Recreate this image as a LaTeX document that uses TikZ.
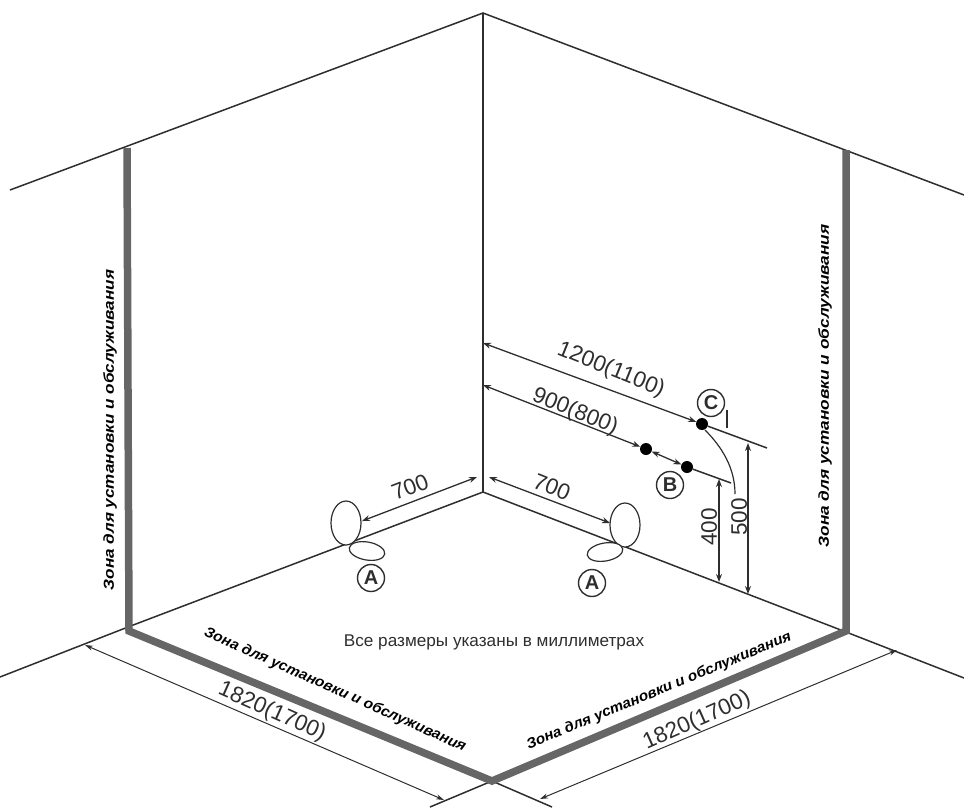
\documentclass[tikz,border=0pt]{standalone}
\usepackage{fontspec}
\setmainfont{Liberation Sans}
\usetikzlibrary{arrows.meta,shapes.geometric}
\definecolor{ink}{gray}{0.18}
\definecolor{band}{gray}{0.4}
\tikzset{
  wall/.style={ink,line width=1.5pt},
  zone/.style={band,line width=7.5pt,line cap=butt,line join=miter},
  dim/.style={ink,line width=1.3pt,{Stealth[length=8pt,width=6pt]}-{Stealth[length=8pt,width=6pt]}},
  thindim/.style={ink,line width=1pt,{Stealth[length=8pt,width=5pt]}-{Stealth[length=8pt,width=5pt]}},
  dimtext/.style={inner sep=0pt,text=ink,font=\fontsize{22.5}{23}\selectfont},
  zonetext/.style={inner sep=0pt,text=black,font=\fontsize{14.5}{15}\selectfont\bfseries\itshape},
  letterring/.style={draw=ink,circle,line width=1.4pt,minimum size=27pt,inner sep=0pt,font=\fontsize{20}{20}\selectfont\bfseries,text=ink},
  tallseat/.style={draw=ink,fill=white,ellipse,line width=1.2pt},
  blackdot/.style={fill=black,circle,minimum size=12pt,inner sep=0pt}
}
\begin{document}
\begin{tikzpicture}[x=1pt,y=-1pt]
\useasboundingbox (0,0) rectangle (964,807);
\coordinate (top) at (483,13);
\coordinate (tl) at (10,190);
\coordinate (tr) at (964,195);
\coordinate (base) at (483,492);
\coordinate (lc) at (128,627);
\coordinate (rc) at (846,632);
\coordinate (lt) at (127,148);
\coordinate (rt) at (846,150);
\coordinate (fc) at (492,781);
\coordinate (lo) at (0,677);
\coordinate (ro) at (964,678);
\coordinate (bl) at (430,807);
\coordinate (br) at (552,807);
% walls
\draw[wall] (tl) -- (top) -- (tr);
\draw[wall] (top) -- (base);
\draw[wall] (lo) -- (lc) -- (base) -- (rc) -- (ro);
\draw[wall] (bl) -- (fc) -- (br);
% zone bands
\draw[zone] (lt) -- (129,631) -- (fc) -- (846,631) -- (rt);
% wall dimensions
\coordinate (c1) at (483,343);
\coordinate (c2) at (483,385);
\node[blackdot] (dc) at (702,424) {};
\node[blackdot] (db1) at (646,449) {};
\node[blackdot] (db2) at (687,467) {};
\coordinate (ce) at (767,448);
\coordinate (be) at (731,483);
\draw[dim] (c1) -- (dc);
\draw[wall] (dc) -- (ce);
\draw[dim] (c2) -- (db1);
\draw[dim] (db1) -- (db2);
\draw[wall] (db2) -- (be);
\draw[wall,line width=1.2pt] (705,430) .. controls (722,447) and (735,468) .. (735,494);
\draw[wall,line width=1.2pt] (727,410) -- (727,428);
% vertical dims
\coordinate (v4a) at (719,479);
\coordinate (v4b) at (719,582);
\coordinate (v5a) at (748,443);
\coordinate (v5b) at (748,594);
\draw[dim] (v4a) -- (v4b);
\draw[dim] (v5a) -- (v5b);
% outlets
\node[tallseat,minimum width=30pt,minimum height=44pt,inner sep=0pt] (sl) at (346,523) {};
\node[tallseat,minimum width=36pt,minimum height=18pt,inner sep=0pt,rotate=-10] (pl) at (367,551) {};
\node[tallseat,minimum width=30pt,minimum height=44pt,inner sep=0pt] (sr) at (625,525) {};
\node[tallseat,minimum width=36pt,minimum height=18pt,inner sep=0pt,rotate=10] (pr) at (605,552) {};
\coordinate (dl) at (477,477);
\coordinate (dr) at (489,477);
\draw[dim] (dl) -- (362,521);
\draw[dim] (dr) -- (610,523);
% floor dimensions
\coordinate (f1) at (85,645);
\coordinate (f2) at (444,800);
\coordinate (f3) at (540,799);
\coordinate (f4) at (897,650);
\draw[thindim] (f1) -- (f2);
\draw[thindim] (f3) -- (f4);
% marks
\node[letterring] (mc) at (711,403) {C};
\node[letterring] (mb) at (670,485) {B};
\node[letterring] (ma1) at (371,578) {A};
\node[letterring] (ma2) at (592,583) {A};
% labels
\node[dimtext,rotate=-22] (t1200) at (611,370) {1200(1100)};
\node[dimtext,rotate=-22] (t900) at (575,412) {900(800)};
\node[dimtext,rotate=21] (t700l) at (410,487) {700};
\node[dimtext,rotate=-22] (t700r) at (552,487) {700};
\node[dimtext,rotate=90] (t400) at (709,527) {400};
\node[dimtext,rotate=90] (t500) at (739,517) {500};
\node[dimtext,rotate=-24] (tfl) at (272,712) {1820(1700)};
\node[dimtext,rotate=24] (tfr) at (697,721) {1820(1700)};
\node[inner sep=0pt,text=ink,font=\fontsize{17}{17}\selectfont,xscale=1.01] (note) at (494,642) {Все размеры указаны в миллиметрах};
\node[zonetext,rotate=90,xscale=1.18] (z1) at (110,430) {Зона для установки и обслуживания};
\node[zonetext,rotate=90,xscale=1.19] (z2) at (825,386) {Зона для установки и обслуживания};
\node[zonetext,rotate=-24,xscale=1.05] (z3) at (335,690) {Зона для установки и обслуживания};
\node[zonetext,rotate=22.5,xscale=1.05] (z4) at (659,691) {Зона для установки и обслуживания};
\end{tikzpicture}
\end{document}
